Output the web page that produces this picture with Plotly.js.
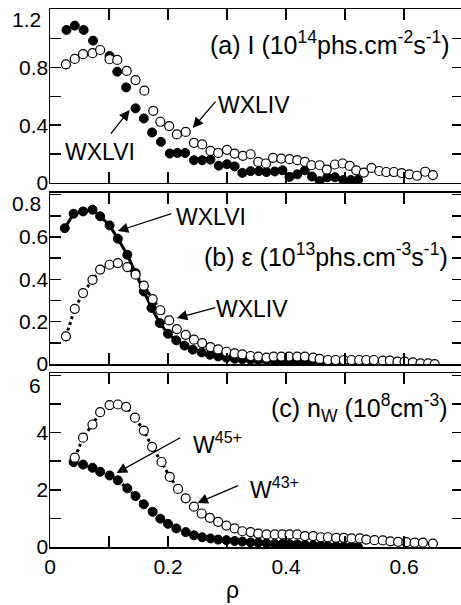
<!DOCTYPE html>
<html><head><meta charset="utf-8">
<script src="https://cdn.plot.ly/plotly-3.0.1.min.js"></script>
<style>html,body{margin:0;padding:0;overflow:hidden;background:#fff}</style>
</head><body><div id="chart" style="width:464px;height:605px"></div>
<script>
// ---------- data ----------
// (a) line-integrated intensity I
const rhoA_WXLVI = [0.028,0.042,0.057,0.073,0.101,0.114,0.129,0.145,0.159,0.173,0.188,0.203,0.216,0.229,0.244,0.258,0.272,0.286,0.300,0.313,0.326,0.340,0.354,0.367,0.381,0.394,0.406,0.419,0.432,0.444,0.457,0.470,0.483,0.497,0.510,0.522];
const IA_WXLVI   = [1.06,1.09,1.06,0.986,0.88,0.771,0.662,0.517,0.447,0.35,0.285,0.204,0.208,0.208,0.158,0.158,0.162,0.12,0.13,0.115,0.07,0.082,0.082,0.076,0.08,0.088,0.042,0.06,0.088,0.045,0.013,0.04,0.04,0.021,0.021,0.021];
const rhoA_WXLIV = [0.027,0.042,0.056,0.072,0.085,0.101,0.114,0.130,0.145,0.160,0.175,0.187,0.202,0.215,0.230,0.244,0.258,0.272,0.285,0.300,0.313,0.327,0.340,0.353,0.366,0.378,0.392,0.406,0.419,0.432,0.443,0.457,0.469,0.483,0.496,0.508,0.519,0.532,0.545,0.558,0.570,0.583,0.596,0.609,0.622,0.636,0.649];
const IA_WXLIV   = [0.822,0.859,0.892,0.899,0.921,0.857,0.852,0.776,0.713,0.639,0.50,0.424,0.394,0.336,0.354,0.278,0.267,0.222,0.208,0.23,0.204,0.188,0.199,0.146,0.135,0.174,0.169,0.165,0.158,0.146,0.123,0.123,0.093,0.128,0.135,0.118,0.088,0.072,0.104,0.083,0.076,0.076,0.069,0.06,0.05,0.078,0.055];
// (b) local emissivity epsilon
const rhoB_WXLVI = [0.025,0.040,0.056,0.072,0.085,0.101,0.115,0.131,0.145,0.159,0.172,0.186,0.200,0.214,0.228,0.242,0.257,0.271,0.285,0.299,0.313,0.326,0.340,0.353,0.367,0.381,0.394,0.406,0.419,0.432,0.446,0.459,0.471,0.485,0.498,0.511,0.522];
const EB_WXLVI   = [0.642,0.710,0.721,0.729,0.698,0.655,0.592,0.516,0.430,0.343,0.265,0.194,0.143,0.112,0.087,0.068,0.055,0.044,0.036,0.03,0.025,0.022,0.02,0.018,0.016,0.014,0.012,0.01,0.008,0.006,0.005,0.004,0.003,0.002,0.001,0.0,0.0];
const rhoB_WXLIV = [0.027,0.042,0.056,0.072,0.085,0.101,0.115,0.131,0.145,0.159,0.174,0.187,0.202,0.215,0.230,0.244,0.258,0.272,0.285,0.299,0.313,0.326,0.340,0.353,0.367,0.379,0.392,0.405,0.419,0.432,0.446,0.457,0.471,0.484,0.498,0.511,0.524,0.536,0.549,0.564,0.576,0.589,0.601,0.615,0.628,0.641,0.652];
const EB_WXLIV   = [0.131,0.261,0.335,0.398,0.446,0.469,0.477,0.458,0.422,0.37,0.307,0.254,0.206,0.165,0.138,0.115,0.099,0.080,0.069,0.058,0.05,0.046,0.038,0.035,0.03,0.035,0.035,0.035,0.035,0.035,0.03,0.024,0.019,0.019,0.019,0.019,0.019,0.019,0.019,0.016,0.016,0.011,0.011,0.008,0.003,0.003,0.0];
// (c) tungsten ion density
const rhoC_W45 = [0.040,0.056,0.072,0.085,0.101,0.115,0.131,0.145,0.159,0.174,0.187,0.200,0.214,0.230,0.244,0.258,0.272,0.285,0.299,0.313,0.326,0.340,0.353,0.367,0.381,0.394,0.406,0.419,0.432,0.446,0.459,0.471,0.485,0.498,0.511,0.522];
const nC_W45   = [2.97,2.88,2.77,2.63,2.50,2.33,2.05,1.78,1.49,1.23,0.99,0.81,0.65,0.52,0.41,0.34,0.30,0.26,0.24,0.21,0.19,0.16,0.15,0.13,0.11,0.11,0.10,0.09,0.08,0.06,0.05,0.04,0.03,0.02,0.01,0.0];
const rhoC_W43 = [0.042,0.056,0.072,0.085,0.101,0.115,0.129,0.144,0.159,0.173,0.189,0.203,0.217,0.230,0.244,0.257,0.271,0.285,0.299,0.313,0.326,0.340,0.353,0.367,0.381,0.394,0.406,0.419,0.432,0.446,0.459,0.471,0.485,0.498,0.511,0.525,0.536,0.550,0.564,0.577,0.590,0.604,0.618,0.632,0.649];
const nC_W43   = [3.12,3.82,4.28,4.71,4.96,4.98,4.90,4.52,4.07,3.50,2.97,2.45,2.03,1.70,1.41,1.17,1.02,0.88,0.75,0.65,0.55,0.52,0.47,0.44,0.44,0.44,0.44,0.44,0.38,0.38,0.34,0.34,0.32,0.32,0.30,0.30,0.26,0.24,0.23,0.20,0.18,0.17,0.15,0.15,0.12];
// ticks (labelled major ticks; minor ticks between them)
const xTickVals = [0,0.2,0.4,0.6];
const xTickText = ['0','0.2','0.4','0.6'];
const xMinorVals = [0.1,0.3,0.5,0.7];
const yA_TickVals = [0,0.4,0.8,1.2];
const yA_TickText = ['0','0.4','0.8','1.2'];
const yA_MinorVals = [0.2,0.6,1.0];
const yB_TickVals = [0,0.2,0.4,0.6,0.8];
const yB_TickText = ['0','0.2','0.4','0.6','0.8'];
const yB_MinorVals = [0.1,0.3,0.5,0.7];
const yC_TickVals = [0,2,4,6];
const yC_TickText = ['0','2','4','6'];
const yC_MinorVals = [1,3,5];

// ---------- styles ----------
const FONT = 'Liberation Sans, Arial, sans-serif';
const filledM = {symbol:'circle', size:9, color:'#000', line:{color:'#000', width:1}};
const openM = {symbol:'circle', size:9, color:'#fff', line:{color:'#000', width:1.2}};

const traces = [
  {x:rhoA_WXLVI, y:IA_WXLVI, xaxis:'x', yaxis:'y', mode:'markers', marker:filledM, name:'WXLVI'},
  {x:rhoA_WXLIV, y:IA_WXLIV, xaxis:'x', yaxis:'y', mode:'markers', marker:openM, name:'WXLIV'},
  {x:rhoB_WXLVI, y:EB_WXLVI, xaxis:'x2', yaxis:'y2', mode:'lines+markers', marker:filledM, line:{color:'#000', width:3}, name:'WXLVI'},
  {x:rhoB_WXLIV, y:EB_WXLIV, xaxis:'x2', yaxis:'y2', mode:'lines+markers', marker:openM, line:{color:'#000', width:3, dash:'dot'}, name:'WXLIV'},
  {x:rhoC_W45, y:nC_W45, xaxis:'x3', yaxis:'y3', mode:'lines+markers', marker:filledM, line:{color:'#000', width:3, dash:'dot'}, name:'W45+'},
  {x:rhoC_W43, y:nC_W43, xaxis:'x3', yaxis:'y3', mode:'lines+markers', marker:openM, line:{color:'#000', width:3, dash:'dot'}, name:'W43+'}
];

const TICKFONT = {family:FONT, size:21, color:'#000'};
function minor(vals){
  return {tickmode:'array', tickvals:vals, ticks:'inside', ticklen:11, tickwidth:1.5, tickcolor:'#000', showgrid:false};
}
function xax(showLabels, anchor){
  return {range:[0,0.7], tickmode:'array', tickvals:xTickVals, ticktext:xTickText, minor:minor(xMinorVals),
    showticklabels:showLabels, ticks:'inside', ticklen:11, tickwidth:1.5, tickcolor:'#000', anchor:anchor,
    showline:true, linewidth:1.5, linecolor:'#000', mirror:'ticks', showgrid:false, zeroline:false,
    tickfont:TICKFONT, fixedrange:true};
}
// the top tick label of each panel is drawn lower (inside the panel) as in the reference
function yax(domain, range, vals, text, minorVals, anchor){
  return {domain:domain, range:range, tickmode:'array', tickvals:vals, ticktext:text.map((t,i)=> i===text.length-1 ? ' ' : t),
    minor:minor(minorVals), anchor:anchor,
    ticks:'inside', ticklen:11, tickwidth:1.5, tickcolor:'#000', ticklabelstandoff:-4,
    showline:true, linewidth:1.5, linecolor:'#000', mirror:'ticks', showgrid:false, zeroline:false,
    tickfont:TICKFONT, fixedrange:true};
}
function topLabel(text, ypaper){
  return {xref:'paper', yref:'paper', x:0, y:ypaper, xshift:-7, text:text, showarrow:false,
    font:TICKFONT, xanchor:'right', yanchor:'middle'};
}

const AF = {family:FONT, size:23, color:'#000'};
const PF = {family:FONT, size:25, color:'#000'};
function label(xr, yr, x, y, text, anchor, font){
  return {xref:xr, yref:yr, x:x, y:y, text:text, showarrow:false, font:font||AF, xanchor:anchor||'center', yanchor:'middle'};
}
function arrow(xr, yr, x, y, ax, ay){
  return {xref:xr, yref:yr, x:x, y:y, ax:ax, ay:ay, text:'', showarrow:true,
    arrowhead:2, arrowsize:1.6, arrowwidth:1.3, arrowcolor:'#000'};
}

const layout = {
  width:464, height:605, showlegend:false,
  margin:{l:50, r:1, t:9, b:58},
  paper_bgcolor:'#fff', plot_bgcolor:'#fff',
  font:{family:FONT, color:'#000'},
  xaxis: xax(false, 'y'),
  xaxis2: xax(false, 'y2'),
  xaxis3: xax(true, 'y3'),
  yaxis: yax([0.6766,1.0], [0,1.205], yA_TickVals, yA_TickText, yA_MinorVals, 'x'),
  yaxis2: yax([0.3401,0.658], [0,0.808], yB_TickVals, yB_TickText, yB_MinorVals, 'x2'),
  yaxis3: yax([0,0.3234], [0,6.08], yC_TickVals, yC_TickText, yC_MinorVals, 'x3'),
  annotations:[
    topLabel(yA_TickText[yA_TickText.length-1], 0.9814),
    topLabel(yB_TickText[yB_TickText.length-1], 0.6394),
    topLabel(yC_TickText[yC_TickText.length-1], 0.3011),
    label('x','y',0.682,0.97,'(a) I (10<sup>14</sup>phs.cm<sup>-2</sup>s<sup>-1</sup>)','right',PF),
    label('x','y',0.345,0.54,'WXLIV'),
    label('x','y',0.084,0.213,'WXLVI'),
    arrow('x','y',0.242,0.38,24,-28),
    arrow('x','y',0.135,0.505,-20,25),
    label('x2','y2',0.678,0.515,'(b) ε (10<sup>13</sup>phs.cm<sup>-3</sup>s<sup>-1</sup>)','right',PF),
    label('x2','y2',0.273,0.694,'WXLVI'),
    label('x2','y2',0.342,0.26,'WXLIV'),
    arrow('x2','y2',0.115,0.628,55,-18),
    arrow('x2','y2',0.215,0.217,40,-11),
    label('x3','y3',0.678,4.85,'(c) n<sub>W</sub> (10<sup>8</sup>cm<sup>-3</sup>)','right',PF),
    label('x3','y3',0.284,3.64,'W<sup>45+</sup>'),
    label('x3','y3',0.38,2.06,'W<sup>43+</sup>'),
    arrow('x3','y3',0.113,2.59,65,-36),
    arrow('x3','y3',0.25,1.54,42,-18),
    {xref:'x3', yref:'paper', x:0.31, y:-0.080, text:'ρ', showarrow:false, font:{family:FONT,size:23,color:'#000'}, xanchor:'center', yanchor:'middle'}
  ]
};

Plotly.newPlot('chart', traces, layout, {displayModeBar:false, staticPlot:true});
</script>
</body></html>
